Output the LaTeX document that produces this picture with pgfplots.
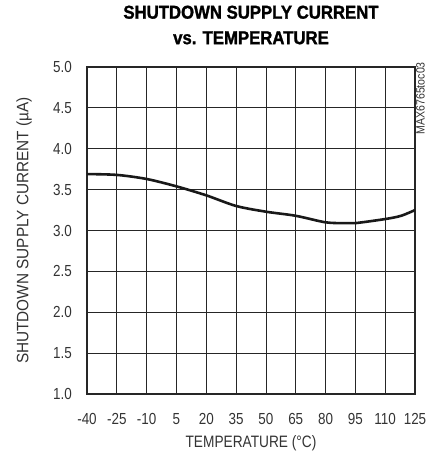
\documentclass[border=0pt]{standalone}
\usepackage{fontspec}
\setmainfont[FakeStretch=0.84]{Liberation Sans}
\newfontfamily\titlefont[FakeStretch=0.9, FakeBold=1.4]{Liberation Sans Bold}
\newfontfamily\ylabfont[FakeStretch=0.93]{Liberation Sans}
\newfontfamily\xlabfont[FakeStretch=0.83]{Liberation Sans}
\newfontfamily\notefont[FakeStretch=0.88]{Liberation Sans}
\usepackage{pgfplots}
\pgfplotsset{compat=1.18}
\begin{document}
\begin{tikzpicture}[x=1pt,y=1pt]
\path (0,0) rectangle (439,457);
\begin{axis}[
  at={(87pt,63pt)}, anchor=south west,
  scale only axis, width=328pt, height=327pt,
  xmin=-40, xmax=125, ymin=1, ymax=5,
  xtick={-40,-25,...,125},
  ytick={1,1.5,2,2.5,3,3.5,4,4.5,5},
  grid=major,
  grid style={line width=0.8pt, black!85},
  axis line style={line width=2.4pt, black!85},
  tick style={draw=none},
  /pgf/number format/assume math mode=true,
  ticklabel style={font=\fontsize{16}{17}\selectfont, black!80, inner sep=0pt},
  yticklabel style={/pgf/number format/fixed, /pgf/number format/fixed zerofill, /pgf/number format/precision=1, anchor=east, xshift=-15pt},
  xticklabel style={/pgf/number format/fixed, anchor=center, yshift=-25pt},
  xlabel={TEMPERATURE (°C)},
  ylabel={SHUTDOWN SUPPLY CURRENT (µA)},
  xlabel style={font=\xlabfont\fontsize{16.5}{17}\selectfont, black!80, at={(rel axis cs:0.5,0)}, anchor=center, yshift=-49pt},
  ylabel style={font=\ylabfont\fontsize{16.5}{17}\selectfont, black!80, at={(rel axis cs:0,0.5)}, anchor=center, yshift=63pt},
  title={SHUTDOWN SUPPLY CURRENT\\vs. TEMPERATURE},
  title style={font=\titlefont\fontsize{18.6}{25.5}\selectfont, align=center, anchor=center, at={(rel axis cs:0.5,1)}, yshift=36pt},
  after end axis/.code={
    \node[rotate=90, anchor=north east, font=\notefont\fontsize{12}{12}\selectfont, black!80, inner sep=0pt]
      at (rel axis cs:1,1) [xshift=5pt, yshift=-1pt] {MAX6765toc03};
  },
]
\addplot[line width=2.6pt, black!90, smooth, tension=0.5] coordinates {
(-40,3.69) (-25,3.68) (-10,3.63) (5,3.54) (20,3.43) (35,3.30) (50,3.23)
(65,3.18) (80,3.10) (90,3.09) (95,3.09) (110,3.14) (118,3.18) (125,3.25)
};
\end{axis}
\end{tikzpicture}
\end{document}
